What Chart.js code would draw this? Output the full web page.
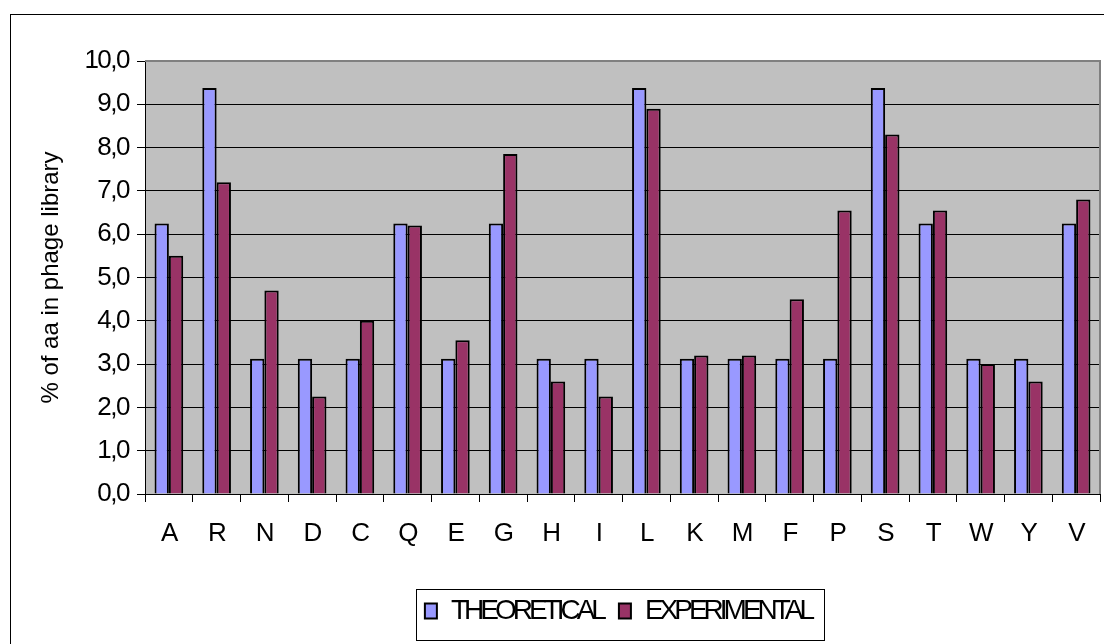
<!DOCTYPE html>
<html><head><meta charset="utf-8">
<script src="https://cdn.jsdelivr.net/npm/chart.js@4.4.1/dist/chart.umd.min.js"></script>
<style>html,body{margin:0;padding:0;background:#fff;overflow:hidden}#wrap{width:1104px;height:644px;position:relative}</style>
</head><body><div id="wrap"><canvas id="c" width="1104" height="644"></canvas></div>
<script>
const categories = ['A','R','N','D','C','Q','E','G','H','I','L','K','M','F','P','S','T','W','Y','V'];
const theoretical = [6.25, 9.375, 3.125, 3.125, 3.125, 6.25, 3.125, 6.25, 3.125, 3.125, 9.375, 3.125, 3.125, 3.125, 3.125, 9.375, 6.25, 3.125, 3.125, 6.25];
const experimental = [5.5, 7.2, 4.7, 2.25, 4.0, 6.2, 3.55, 7.85, 2.6, 2.25, 8.9, 3.2, 3.2, 4.5, 6.55, 8.3, 6.55, 3.0, 2.6, 6.8];
const yTickLabels = ['0,0','1,0','2,0','3,0','4,0','5,0','6,0','7,0','8,0','9,0','10,0'];
const seriesNames = ['THEORETICAL','EXPERIMENTAL'];
const yAxisTitle = '% of aa in phage library';

const FONT = "'Liberation Sans', Arial, sans-serif";
const LEGEND_DX = 63;

const frame = {
  id: 'frame',
  afterInit(chart) {
    const lg = chart.legend;
    const fit0 = lg.fit.bind(lg), draw0 = lg.draw.bind(lg);
    lg.fit = function () {
      const c = this.ctx, s = c.letterSpacing; c.letterSpacing = '-4px'; fit0(); c.letterSpacing = s;
    };
    lg.draw = function (a) {
      const c = this.ctx, s = c.letterSpacing; c.letterSpacing = '-4px';
      this.left += LEGEND_DX; this.right += LEGEND_DX;
      draw0(a);
      this.left -= LEGEND_DX; this.right -= LEGEND_DX;
      c.letterSpacing = s;
    };
  },
  beforeDraw(chart) {
    const { ctx, chartArea: a } = chart;
    const ys = chart.scales.y;
    if (ys && !ys._titlePatched) {
      const dt0 = ys.drawTitle.bind(ys);
      ys.drawTitle = function () {
        const c = this.ctx, s = c.letterSpacing; c.letterSpacing = '0px'; dt0(); c.letterSpacing = s;
      };
      ys._titlePatched = true;
    }
    ctx.save();
    ctx.fillStyle = '#fff'; ctx.fillRect(0, 0, chart.width, chart.height);
    ctx.strokeStyle = '#000'; ctx.lineWidth = 1;
    ctx.strokeRect(10.5, 14.5, 1200, 700);
    ctx.fillStyle = '#C0C0C0';
    ctx.fillRect(a.left, a.top, a.right - a.left, a.bottom - a.top);
    ctx.restore();
    ctx.letterSpacing = '-1.5px';
  },
  afterDraw(chart) {
    const { ctx, chartArea: a } = chart;
    ctx.letterSpacing = '0px';
    ctx.save();
    ctx.strokeStyle = '#808080'; ctx.lineWidth = 2;
    ctx.beginPath();
    ctx.moveTo(a.left, a.top); ctx.lineTo(a.right, a.top); ctx.lineTo(a.right, a.bottom);
    ctx.stroke();
    const hb = chart.legend.legendHitBoxes;
    if (hb && hb.length) {
      const last = hb[hb.length - 1];
      const l = hb[0].left + LEGEND_DX - 9, r = last.left + last.width + LEGEND_DX + 13;
      const t = hb[0].top - 8, b = hb[0].top + hb[0].height + 15;
      ctx.strokeStyle = '#000'; ctx.lineWidth = 1;
      ctx.strokeRect(Math.round(l) + 0.5, Math.round(t) + 0.5, Math.round(r - l), Math.round(b - t));
    }
    ctx.restore();
  }
};

new Chart(document.getElementById('c'), {
  type: 'bar',
  data: {
    labels: categories,
    datasets: [
      { label: seriesNames[0], data: theoretical, backgroundColor: '#9999FF', borderColor: '#000', borderWidth: 2 },
      { label: seriesNames[1], data: experimental, backgroundColor: '#993366', borderColor: '#000', borderWidth: 2 }
    ]
  },
  options: {
    responsive: false,
    animation: false,
    devicePixelRatio: 1,
    categoryPercentage: 0.6,
    barPercentage: 1.0,
    layout: { padding: { left: 10, right: 4, top: 61, bottom: 9 } },
    plugins: {
      tooltip: { enabled: false },
      legend: {
        position: 'bottom',
        align: 'center',
        labels: {
          boxWidth: 12, boxHeight: 15, padding: 16, color: '#000',
          font: { family: FONT, size: 28 }
        }
      }
    },
    scales: {
      x: {
        grid: { offset: true, drawOnChartArea: false, drawTicks: true, tickLength: 8, color: '#000' },
        border: { color: '#000', width: 1 },
        ticks: { color: '#000', font: { family: FONT, size: 26 }, padding: 16, maxRotation: 0, autoSkip: false },
        afterFit(s) { s.height = 87; }
      },
      y: {
        min: 0, max: 10,
        grid: {
          color: (c) => (c.tick && c.tick.value === 10 ? 'rgba(0,0,0,0)' : '#000'),
          tickColor: '#000', tickLength: 8, lineWidth: 1
        },
        border: { color: '#000', width: 1 },
        ticks: {
          stepSize: 1, color: '#000', padding: 8,
          font: { family: FONT, size: 26 },
          callback: (v) => yTickLabels[Math.round(v)]
        },
        title: {
          display: true, text: yAxisTitle, color: '#000',
          font: { family: FONT, size: 24 }, padding: { top: 27, bottom: 0 }
        },
        afterFit(s) { s.width = 135; }
      }
    }
  },
  plugins: [frame]
});
</script></body></html>
